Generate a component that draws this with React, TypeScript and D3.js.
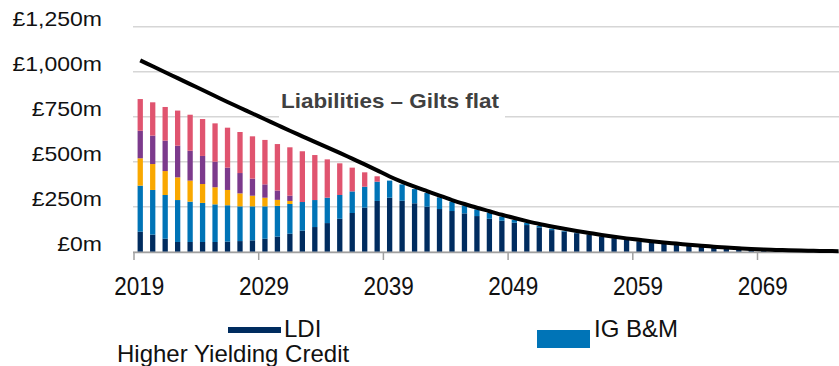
import React from 'react';
import * as d3 from 'd3';

const years: number[] = d3.range(2019, 2076);
const tickYears = [2019, 2029, 2039, 2049, 2059, 2069];
const yTicks = [0, 250, 500, 750, 1000, 1250];
const yTickLabels = ['£0m', '£250m', '£500m', '£750m', '£1,000m', '£1,250m'];

const ldi = [111, 95, 72, 54, 54, 54, 54, 56, 59, 63, 72, 84, 100, 117, 137, 159, 183, 215, 245, 282, 300, 283, 269, 250, 237, 226, 213, 198, 183, 172, 161, 148, 135, 120, 112, 103, 94, 84, 75, 66, 58, 52, 46, 39, 33, 28, 22, 17, 13, 10, 7, 5, 3, 2, 1, 1, 0];
const igbm = [256, 248, 243, 233, 224, 217, 209, 202, 193, 189, 180, 171, 165, 159, 150, 141, 132, 120, 116, 107, 95, 91, 79, 76, 65, 52, 43, 37, 34, 23, 15, 13, 8, 8, 4, 3, 2, 1, 0, 0, 0, 0, 0, 0, 0, 0, 0, 0, 0, 0, 0, 0, 0, 0, 0, 0, 0];
const hyCredit = [152, 144, 133, 126, 117, 105, 95, 85, 72, 59, 48, 33, 17, 0, 0, 0, 0, 0, 0, 0, 0, 0, 0, 0, 0, 0, 0, 0, 0, 0, 0, 0, 0, 0, 0, 0, 0, 0, 0, 0, 0, 0, 0, 0, 0, 0, 0, 0, 0, 0, 0, 0, 0, 0, 0, 0, 0];
const otherCredit = [153, 158, 169, 176, 166, 156, 142, 124, 113, 95, 74, 52, 29, 0, 0, 0, 0, 0, 0, 0, 0, 0, 0, 0, 0, 0, 0, 0, 0, 0, 0, 0, 0, 0, 0, 0, 0, 0, 0, 0, 0, 0, 0, 0, 0, 0, 0, 0, 0, 0, 0, 0, 0, 0, 0, 0, 0];
const growth = [176, 185, 187, 195, 200, 205, 213, 222, 228, 235, 247, 258, 269, 282, 250, 213, 176, 132, 80, 30, 0, 0, 0, 0, 0, 0, 0, 0, 0, 0, 0, 0, 0, 0, 0, 0, 0, 0, 0, 0, 0, 0, 0, 0, 0, 0, 0, 0, 0, 0, 0, 0, 0, 0, 0, 0, 0];
const liabilities = [1063, 1030, 997, 964, 931, 898, 865, 832, 800, 768, 736, 704, 672, 641, 610, 580, 549, 517, 485, 452, 418, 388, 361, 336, 311, 287, 265, 244, 225, 205, 187, 170, 154, 140, 127, 115, 104, 93, 83, 74, 66, 58, 51, 45, 39, 33, 28, 23, 19, 15, 12, 10, 8, 6, 5, 4, 3];

const keys = ['ldi', 'igbm', 'hyCredit', 'otherCredit', 'growth'];
const colors: Record<string, string> = {
  ldi: '#002C5F',
  igbm: '#0074B7',
  hyCredit: '#F9A800',
  otherCredit: '#7C3A8C',
  growth: '#E0546F',
};

export default function App() {
  const W = 839;
  const H = 366;
  const step = 12.47;
  const x = d3
    .scaleBand<number>()
    .domain(years)
    .range([134, 134 + years.length * step])
    .paddingInner(0.575)
    .paddingOuter(0.2875);
  const y = d3.scaleLinear().domain([0, 1250]).range([251.7, 26.7]);

  const rows = years.map((yr, i) => ({
    year: yr,
    ldi: ldi[i],
    igbm: igbm[i],
    hyCredit: hyCredit[i],
    otherCredit: otherCredit[i],
    growth: growth[i],
  }));
  const stacked = d3.stack<any>().keys(keys)(rows);

  const cx = (yr: number) => (x(yr) as number) + x.bandwidth() / 2;
  const line = d3
    .line<number>()
    .x((_, i) => cx(years[i]))
    .y((d) => y(d))
    .curve(d3.curveMonotoneX);

  const half = (x.step() - x.bandwidth()) / 2;

  return (
    <svg
      width={W}
      height={H}
      style={{ position: 'absolute', left: 0, top: 0, background: '#fff' }}
      fontFamily="'Liberation Sans', Arial, sans-serif"
    >
      {yTicks.map((t) => (
        <line key={'g' + t} x1={133} x2={W} y1={y(t)} y2={y(t)} stroke="#D6D6D6" strokeWidth={1.5} />
      ))}
      <rect x={279} y={86} width={226} height={35} fill="#fff" />
      {yTicks.map((t, i) => (
        <text
          key={'yl' + t}
          transform={`translate(102,${y(t) - 1}) scale(1.15,1)`}
          textAnchor="end"
          fontSize={20}
          fill="#111"
        >
          {yTickLabels[i]}
        </text>
      ))}
      {stacked.map((s) => (
        <g key={s.key} fill={colors[s.key]}>
          {s.map((d: any, i: number) =>
            d[1] - d[0] > 0 ? (
              <rect
                key={i}
                x={x(years[i]) as number}
                width={x.bandwidth()}
                y={y(d[1])}
                height={y(d[0]) - y(d[1])}
              />
            ) : null
          )}
        </g>
      ))}
      <line x1={133} x2={W} y1={252.5} y2={252.5} stroke="#A0A0A0" strokeWidth={1.5} />
      {tickYears.map((t) => (
        <g key={'t' + t}>
          <line
            x1={(x(t) as number) - half}
            x2={(x(t) as number) - half}
            y1={252}
            y2={260}
            stroke="#A0A0A0"
            strokeWidth={1.5}
          />
          <text
            transform={`translate(${cx(t) - 1},295) scale(0.9,1)`}
            textAnchor="middle"
            fontSize={25}
            fill="#111"
          >
            {t}
          </text>
        </g>
      ))}
      <path d={line(liabilities) || ''} fill="none" stroke="#000" strokeWidth={4} />
      <text x={281} y={108} fontSize={21} fontWeight="bold" fill="#404040" textLength={218} lengthAdjust="spacingAndGlyphs">
        Liabilities – Gilts flat
      </text>
      <rect x={228} y={327} width={53} height={6} fill={colors.ldi} />
      <text x={284} y={337} fontSize={24} fill="#111">LDI</text>
      <rect x={537} y={330} width={53} height={18} fill={colors.igbm} />
      <text x={594} y={337} fontSize={24} fill="#111">IG B&amp;M</text>
      <text x={117} y={362} fontSize={24} fill="#111">Higher Yielding Credit</text>
    </svg>
  );
}
